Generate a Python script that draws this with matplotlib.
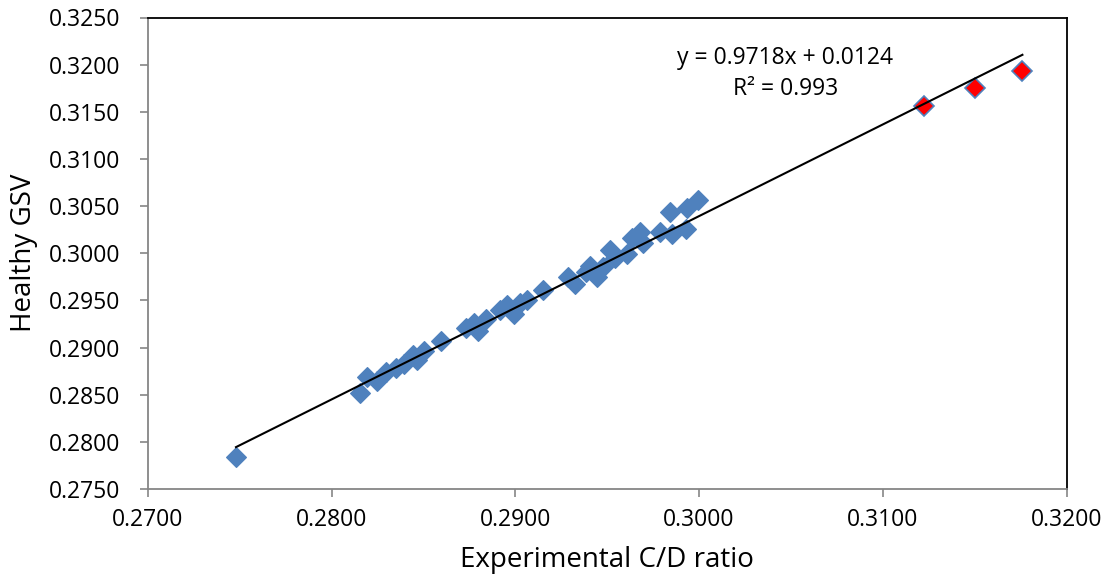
import matplotlib
matplotlib.use("Agg")
import matplotlib.pyplot as plt
import numpy as np

plt.rcParams['font.family'] = ['Open Sans', 'DejaVu Sans']

# Blue (measured) points
x_blue = [0.27479, 0.28155, 0.28193, 0.28247, 0.28296, 0.28351, 0.28394, 0.28443,
          0.28465, 0.28503, 0.28596, 0.28732, 0.28776, 0.28797, 0.28841, 0.28917,
          0.28955, 0.28993, 0.29026, 0.29064, 0.29151, 0.29288, 0.29326, 0.29386,
          0.29407, 0.29446, 0.29478, 0.29516, 0.29544, 0.29609, 0.29636, 0.29680,
          0.29696, 0.29789, 0.29843, 0.29854, 0.29930, 0.29936, 0.29996]
y_blue = [0.27840, 0.28520, 0.28690, 0.28647, 0.28742, 0.28785, 0.28827, 0.28923,
          0.28869, 0.28965, 0.29072, 0.29209, 0.29262, 0.29177, 0.29305, 0.29400,
          0.29453, 0.29358, 0.29475, 0.29506, 0.29613, 0.29751, 0.29676, 0.29804,
          0.29867, 0.29751, 0.29857, 0.30037, 0.29952, 0.29995, 0.30165, 0.30228,
          0.30111, 0.30228, 0.30441, 0.30207, 0.30260, 0.30483, 0.30568]

# Red (highlighted) points
x_red = [0.31227, 0.31504, 0.31760]
y_red = [0.31566, 0.31757, 0.31937]

slope = 0.9718
intercept = 0.0124
eq_text = "y = 0.9718x + 0.0124"
r2_text = "R² = 0.993"

x_ticks = [0.27, 0.28, 0.29, 0.30, 0.31, 0.32]
y_ticks = [0.275, 0.28, 0.285, 0.29, 0.295, 0.30, 0.305, 0.31, 0.315, 0.32, 0.325]

fig = plt.figure(figsize=(11.1, 5.84), dpi=100)
ax = fig.add_axes([148/1110, 1-489/584, (1066.5-148)/1110, (489-17.5)/584])

blue = '#4F81BD'
ax.plot(x_blue, y_blue, linestyle='none', marker='D', ms=10.3, mfc=blue, mec=blue, mew=0.8, zorder=3)
ax.plot(x_red, y_red, linestyle='none', marker='D', ms=10.3, mfc='#FF0000', mec=blue, mew=1.2, zorder=3)

all_x = x_blue + x_red
xl = np.array([min(all_x), max(all_x)])
ax.plot(xl, slope*xl + intercept, color='black', lw=1.5, zorder=4)

ax.set_xlim(0.27, 0.32)
ax.set_ylim(0.275, 0.325)
ax.set_xticks(x_ticks)
ax.set_yticks(y_ticks)
ax.set_xticklabels([f"{v:.4f}" for v in x_ticks])
ax.set_yticklabels([f"{v:.4f}" for v in y_ticks])
ax.tick_params(axis='both', direction='out', length=6, width=1.2, color='#868686', labelsize=16.5)
ax.tick_params(axis='x', pad=8)
ax.tick_params(axis='y', pad=14)

for s in ['left', 'bottom']:
    ax.spines[s].set_color('#868686')
    ax.spines[s].set_linewidth(1.3)
for s in ['top', 'right']:
    ax.spines[s].set_color('black')
    ax.spines[s].set_linewidth(1.3)

ax.set_xlabel("Experimental C/D ratio", fontsize=20, labelpad=10)
ax.set_ylabel("Healthy GSV", fontsize=20, labelpad=8)

ax.text(0.30469, 0.32075, eq_text, fontsize=16.5, ha='center', va='center')
ax.text(0.30469, 0.31746, r2_text, fontsize=16.5, ha='center', va='center')

fig.savefig("out.png", dpi=100)
